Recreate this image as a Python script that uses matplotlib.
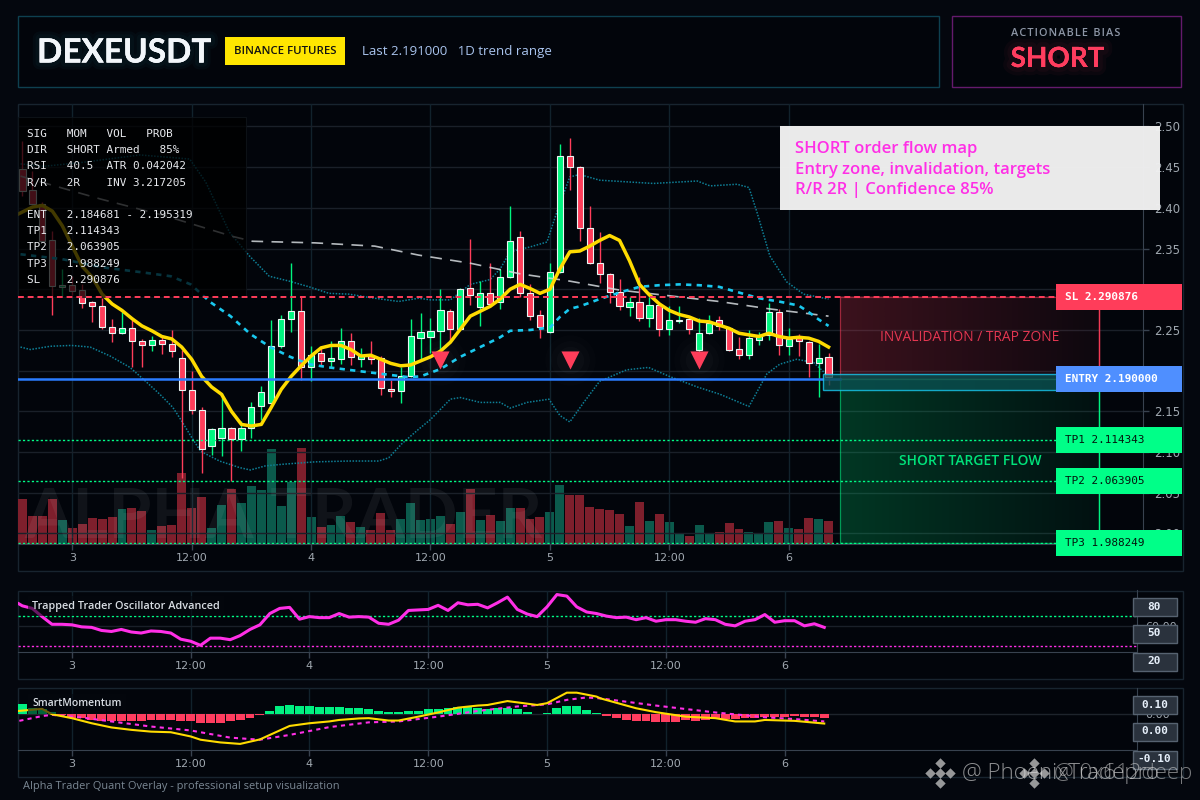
import numpy as np
import matplotlib
matplotlib.use("Agg")
import matplotlib.pyplot as plt
from matplotlib.patches import Rectangle
from matplotlib.transforms import blended_transform_factory, IdentityTransform
import matplotlib.patheffects as pe

# ---------- data ----------
opens = [2.448,2.422,2.405,2.360,2.303,2.305,2.299,2.284,2.279,2.254,2.246,2.253,2.236,2.232,2.238,2.233,2.215,2.176,2.152,2.108,2.117,2.129,2.116,2.129,2.156,2.160,2.230,2.263,2.273,2.204,2.222,2.212,2.214,2.236,2.214,2.218,2.215,2.177,2.175,2.193,2.240,2.241,2.249,2.273,2.251,2.302,2.278,2.296,2.284,2.315,2.364,2.295,2.268,2.247,2.321,2.464,2.450,2.375,2.332,2.319,2.297,2.278,2.284,2.265,2.281,2.251,2.261,2.264,2.226,2.246,2.262,2.253,2.227,2.219,2.238,2.244,2.272,2.230,2.243,2.235,2.209,2.217]
highs = [2.482,2.445,2.407,2.371,2.325,2.316,2.306,2.286,2.289,2.263,2.272,2.263,2.239,2.243,2.243,2.250,2.226,2.199,2.155,2.129,2.173,2.131,2.138,2.161,2.181,2.262,2.268,2.332,2.292,2.230,2.230,2.236,2.252,2.246,2.228,2.237,2.218,2.188,2.204,2.263,2.271,2.265,2.300,2.276,2.302,2.362,2.310,2.332,2.325,2.402,2.372,2.306,2.274,2.332,2.479,2.486,2.451,2.402,2.370,2.320,2.313,2.290,2.315,2.290,2.284,2.280,2.280,2.267,2.265,2.269,2.267,2.254,2.241,2.250,2.248,2.283,2.276,2.252,2.245,2.237,2.233,2.222]
lows = [2.414,2.404,2.359,2.269,2.292,2.293,2.277,2.260,2.251,2.235,2.245,2.204,2.205,2.224,2.220,2.217,2.068,2.147,2.074,2.096,2.095,2.065,2.101,2.117,2.140,2.159,2.228,2.248,2.188,2.187,2.207,2.204,2.208,2.207,2.204,2.208,2.170,2.168,2.160,2.192,2.214,2.222,2.223,2.234,2.250,2.281,2.255,2.278,2.276,2.314,2.291,2.262,2.240,2.246,2.320,2.422,2.359,2.331,2.308,2.283,2.275,2.267,2.261,2.254,2.242,2.244,2.258,2.245,2.220,2.245,2.250,2.224,2.214,2.214,2.232,2.238,2.219,2.219,2.218,2.192,2.168,2.183]
closes = [2.421,2.405,2.359,2.304,2.305,2.298,2.283,2.280,2.254,2.246,2.253,2.236,2.232,2.238,2.233,2.224,2.176,2.152,2.104,2.128,2.129,2.116,2.129,2.155,2.174,2.230,2.264,2.273,2.204,2.219,2.212,2.215,2.236,2.217,2.219,2.214,2.179,2.175,2.193,2.243,2.247,2.249,2.274,2.251,2.300,2.293,2.296,2.282,2.315,2.359,2.295,2.267,2.254,2.321,2.464,2.450,2.375,2.332,2.319,2.297,2.280,2.284,2.265,2.281,2.251,2.262,2.262,2.251,2.246,2.259,2.255,2.226,2.219,2.240,2.244,2.272,2.232,2.239,2.236,2.209,2.216,2.192]
volumes = [136,85,85,136,73,49,61,79,76,82,106,109,100,43,55,58,214,109,142,49,118,166,124,175,163,286,115,187,289,82,52,58,85,67,52,43,94,43,76,124,73,75,84,60,96,165,72,87,69,108,108,75,81,96,177,147,147,111,105,102,90,54,126,69,90,66,33,24,57,33,36,63,45,36,33,66,69,48,45,78,75,69]
fast_line = [2.389,2.395,2.401,2.403,2.396,2.378,2.353,2.328,2.315,2.294,2.282,2.274,2.264,2.255,2.249,2.242,2.239,2.229,2.214,2.193,2.180,2.171,2.150,2.134,2.132,2.134,2.155,2.177,2.193,2.206,2.218,2.228,2.231,2.231,2.226,2.218,2.219,2.214,2.209,2.206,2.207,2.212,2.217,2.224,2.235,2.251,2.267,2.273,2.279,2.288,2.300,2.306,2.301,2.295,2.300,2.325,2.346,2.347,2.353,2.360,2.366,2.360,2.335,2.306,2.293,2.282,2.274,2.269,2.266,2.261,2.260,2.256,2.252,2.246,2.244,2.242,2.246,2.242,2.240,2.241,2.240,2.236,2.229]
basis_idx = [-0.2,4,8,11.9,14.9,16.9,18.9,20.9,22.9,24.9,26.9,28.8,30.8,32.8,34.8,36.8,38.8,40,42,44,46,48,49,51,53,54,55,56,58,60,62,64,66,68,70,72,74,76,78,79,80,81]
basis = [2.343,2.337,2.327,2.321,2.316,2.306,2.284,2.267,2.245,2.229,2.217,2.208,2.204,2.201,2.198,2.195,2.192,2.193,2.202,2.217,2.229,2.241,2.249,2.250,2.253,2.266,2.276,2.279,2.288,2.296,2.303,2.305,2.306,2.305,2.303,2.296,2.289,2.285,2.280,2.272,2.263,2.255]
upper_idx = [-0.2,2.1,6.1,11.8,16.8,18.4,20.8,22.8,24.8,26.8,28.8,30.8,32.8,34.8,37.8,39.8,41,43,45,47,48,49,51,52.7,53.7,55,56,58,60.7,63.4,67.8,69.1,71.8,73,73.8,75.1,76.8,78.5,81]
upper = [2.454,2.451,2.456,2.465,2.460,2.432,2.370,2.341,2.316,2.310,2.303,2.295,2.294,2.290,2.285,2.289,2.287,2.287,2.306,2.312,2.325,2.346,2.352,2.358,2.395,2.438,2.441,2.434,2.432,2.430,2.433,2.427,2.429,2.425,2.395,2.341,2.309,2.294,2.288]
lower_idx = [-0.2,0.8,2.8,4.9,6.8,8.8,10.8,12.1,13.8,15.1,15.9,16.9,17.9,19.8,21.8,22.9,24.4,26.1,29.4,32.8,35.8,36.8,38.1,39.8,41,43,44,46,48,49,50.7,52.9,54,55,56.4,58,60.7,62.9,65,67.8,70.1,73,74.8,76.1,77.8,79.5,81]
lower = [2.229,2.226,2.230,2.231,2.229,2.218,2.204,2.190,2.171,2.155,2.140,2.120,2.101,2.089,2.081,2.078,2.083,2.085,2.088,2.089,2.089,2.093,2.110,2.128,2.140,2.165,2.167,2.161,2.161,2.154,2.161,2.165,2.145,2.137,2.161,2.187,2.201,2.204,2.193,2.180,2.171,2.156,2.196,2.208,2.214,2.210,2.193]
slow_idx = [-0.2,7.8,14.4,21.1,23.1,29.4,35.4,39.8,45,50,55,60,65,70,75,81]
slow_line = [2.439,2.411,2.390,2.365,2.359,2.357,2.353,2.342,2.332,2.319,2.310,2.299,2.292,2.285,2.276,2.267]
signal_idx = [42,55,68]
signal_price = [2.213,2.213,2.213]
osc = [103,99,94,78,63,63,62,58,57,51,49,53,48,46,50,49,46,34,30,22,36,36,33,41,53,62,84,94,96,73,78,76,76,84,77,78,77,65,63,71,90,91,92,100,90,105,101,102,95,105,116,92,83,78,97,121,118,97,87,84,79,76,77,72,76,69,72,72,69,67,74,72,63,60,69,72,82,67,70,70,60,64,57]
hist = [.034,.020,.018,.009,-.003,-.011,-.014,-.018,-.021,-.022,-.022,-.022,-.022,-.020,-.018,-.018,-.021,-.022,-.029,-.029,-.029,-.024,-.020,-.013,-.002,.012,.026,.031,.029,.027,.023,.023,.023,.020,.020,.016,.010,.007,.007,.010,.012,.016,.019,.022,.024,.024,.022,.019,.020,.020,.018,.009,.001,.004,.020,.028,.026,.014,.004,-.006,-.014,-.019,-.023,-.023,-.026,-.027,-.026,-.019,-.022,-.020,-.017,-.016,-.016,-.014,-.013,-.009,-.008,-.008,-.006,-.008,-.009,-.012]
mom_idx = [-0.4,2,3,5,7,9,11,13,15,17,18,20,22,24,25,27,29,31,32,34,35,37,38,40,42,44,46,47,49,52,53,55,56,58,58.4,62,64,67,70,72,74,75,78,81]
mom = [.011,.018,0,-.013,-.030,-.044,-.052,-.058,-.060,-.074,-.085,-.094,-.099,-.084,-.069,-.039,-.030,-.024,-.019,-.014,-.013,-.021,-.021,-.008,.006,.022,.029,.031,.044,.031,.037,.072,.072,.059,.053,.020,.007,-.008,-.013,-.024,-.024,-.019,-.022,-.031]
sig_idx = [-0.3,2,3,6,9,13,17,21,24,27,31,35,38,42,46,50,53,55,57,58.4,64,70,75,78,81]
sig = [-.022,-.006,-.002,-.011,-.024,-.041,-.054,-.078,-.085,-.069,-.043,-.027,-.024,-.008,.011,.026,.033,.048,.056,.053,.029,.006,-.010,-.016,-.024]

time_pos = [5,17,29,41,53,65,77]
time_labels = ["3","12:00","4","12:00","5","12:00","6"]
price_ticks = [2.00,2.05,2.10,2.15,2.20,2.25,2.30,2.35,2.40,2.45,2.50]
SL, ENTRY, TP1, TP2, TP3 = 2.290876, 2.190000, 2.114343, 2.063905, 1.988249
info_lines = ["SIG   MOM   VOL   PROB","DIR   SHORT Armed   85%","RSI   40.5  ATR 0.042042","R/R   2R    INV 3.217205","",
              "ENT   2.184681 - 2.195319","TP1   2.114343","TP2   2.063905","TP3   1.988249","SL    2.290876"]
level_labels = [("SL 2.290876",SL,"#ff3d5a","#ffffff"),("ENTRY 2.190000",ENTRY,"#4f8fff","#ffffff"),
                ("TP1 2.114343",TP1,"#00ff88","#04140c"),("TP2 2.063905",TP2,"#00ff88","#04140c"),("TP3 1.988249",TP3,"#00ff88","#04140c")]

# ---------- style ----------
W, H = 1200, 800
BG = "#04070e"; PANEL = "#02050b"
RED = "#ff3d5a"; GRN = "#00f57f"; VRED = "#7e1f2c"; VGRN = "#0b5a4c"
MONO = "DejaVu Sans Mono"; SANS = "Open Sans"; HEAD = "Lato"
GRIDH = "#1a2029"; GRIDV = "#11222c"; AX = "#38424f"

fig = plt.figure(figsize=(12, 8), dpi=100, facecolor=BG)

def axpx(l, t, r, b, z):
    a = fig.add_axes([l/W, 1-b/H, (r-l)/W, (b-t)/H], zorder=z)
    a.patch.set_alpha(0)
    return a

bgax = axpx(0, 0, W, H, 0)
bgax.set_xlim(0, W); bgax.set_ylim(H, 0); bgax.axis("off")
def frame(a, x0, y0, x1, y1, ec, fc="none", lw=1.0, z=1, alpha=None):
    a.add_patch(Rectangle((x0,y0), x1-x0, y1-y0, ec=ec, fc=fc, lw=lw, zorder=z, alpha=alpha, clip_on=False))
frame(bgax, 17.5, 15.5, 938.5, 86.5, "#0e4050", PANEL)
frame(bgax, 951.5, 15.5, 1180.5, 86.5, "#641a6c", PANEL)
frame(bgax, 17.5, 103.5, 1182.5, 570.5, "#18242f", PANEL)
frame(bgax, 17.5, 590.5, 1182.5, 678.5, "#18242f", PANEL)
frame(bgax, 17.5, 687.5, 1182.5, 776.5, "#18242f", PANEL)

YTOP, YBOT = 2.5276, 1.98708
XL, XR = -0.452, 112.6

vax = axpx(18, 104, 1143, 544, 1)
vax.axis("off")
vcol = [VGRN if c >= o else VRED for o, c in zip(opens, closes)]
vax.bar(range(len(volumes)), volumes, width=0.9, color=vcol)
vax.set_xlim(XL, XR); vax.set_ylim(0, 1320)

ax = axpx(18, 104, 1143, 544, 2)
idx = np.arange(len(opens))
ax.set_axisbelow(True)
ax.grid(True, axis="y", color=GRIDH, lw=1)
ax.grid(True, axis="x", color=GRIDV, lw=1)
ax.set_yticks(price_ticks); ax.set_yticklabels([f"{p:.2f}" for p in price_ticks])
ax.set_xticks(time_pos); ax.set_xticklabels(time_labels)
ax.yaxis.tick_right()
ax.tick_params(axis="y", labelsize=8.5, length=4, pad=4, width=1, color=AX)
ax.tick_params(axis="x", labelsize=8, length=4, pad=2.5, width=1, color=AX)
for lab in ax.get_xticklabels()+ax.get_yticklabels():
    lab.set_color("#a0a8b0")
for s in ["top","left"]:
    ax.spines[s].set_visible(False)
for s in ["bottom","right"]:
    ax.spines[s].set_color(AX)

ax.text(26.2, 2.019, "ALPHA TRADER", fontsize=50, family=HEAD, fontweight="bold", color="white", alpha=0.06,
        ha="center", va="center", zorder=1.2)

ax.plot(upper_idx, upper, color="#0e7f96", lw=1.1, ls=(0,(1,1)), zorder=2)
ax.plot(lower_idx, lower, color="#0e7f96", lw=1.1, ls=(0,(1,1)), zorder=2)

ccol = [GRN if c >= o else RED for o, c in zip(opens, closes)]
ax.vlines(idx, lows, highs, colors=ccol, lw=1, zorder=3)
btm = [min(o,c) for o,c in zip(opens,closes)]
hgt = [max(abs(o-c),0.001) for o,c in zip(opens,closes)]
ax.bar(idx, hgt, bottom=btm, width=0.62, color=ccol, edgecolor="#eaf6f4", linewidth=0.8, zorder=3.1)

ax.plot(slow_idx, slow_line, color="#d5dade", lw=1.2, ls=(0,(7,5)), alpha=0.85, zorder=3.2)
ax.plot(basis_idx, basis, color="#19c8ee", lw=1.9, ls=(0,(2,2)), zorder=3.3)
ax.plot(np.arange(-1, len(fast_line)-1), fast_line, color="#ffdb00", lw=2.5, zorder=3.5, solid_joinstyle="round")

ax.axhline(SL, color=RED, lw=1.4, ls=(0,(3,2)), zorder=3.6)
for tp in (TP1, TP2, TP3):
    ax.axhline(tp, color="#00ff88", lw=1, ls=(0,(1.6,1.6)), zorder=3.6)
ax.plot([XL, 82.2], [ENTRY, ENTRY], color="#2a7cff", lw=1.8, zorder=3.7)

for r, al in [(26,.012),(20,.014),(14,.018)]:
    ax.scatter(signal_idx, signal_price, s=(r*1.4)**2, color="white", alpha=al, lw=0, zorder=3.75)
ax.scatter(signal_idx, signal_price, marker="v", s=170, color=RED, lw=0, zorder=3.8)

def zone(x0, x1, p0, p1, rgb, a0, a1, ec, z=3.4):
    g = np.zeros((2, 64, 4))
    g[..., :3] = rgb
    g[..., 3] = np.linspace(a0, a1, 64)
    ax.imshow(g, extent=[x0, x1, p0, p1], aspect="auto", origin="lower", zorder=z, interpolation="bilinear")
    ax.plot([x0,x1,x1,x0,x0],[p0,p0,p1,p1,p0], color=ec, lw=0.9, alpha=0.5, zorder=z+.01)
ZX0, ZX1 = 82.2, 108.2
zone(ZX0, ZX1, ENTRY, SL, (1,.24,.35), .23, .05, RED)
zone(ZX0, ZX1, TP3, ENTRY, (0,1,.53), .20, .05, "#00ff88")
ax.add_patch(Rectangle((80.45, 2.176), 24.85, 0.0195, fc="#0a4f50", ec="#19c8ee", lw=1, alpha=0.8, zorder=3.9))
ax.text(95.2, 2.2402, "INVALIDATION / TRAP ZONE", color=RED, fontsize=9.9, family=SANS, ha="center", va="center", alpha=0.88, zorder=5)
ax.text(95.2, 2.0893, "SHORT TARGET FLOW", color="#00e27a", fontsize=10, family=SANS, fontweight="semibold", ha="center", va="center", zorder=5)
ax.plot([ZX1,ZX1],[ENTRY,SL], color=RED, lw=1, alpha=.9, zorder=3.95)
ax.plot([ZX1,ZX1],[TP3,ENTRY], color="#00ff88", lw=1, alpha=.9, zorder=3.95)

ax.add_patch(Rectangle((XL, SL), 22.9, 0.2205, fc="#000000", ec="#10161c", lw=.8, alpha=0.74, zorder=3.58, clip_on=True))
yy = [134,150,166,183,199,215,231,247,264,280]
for s, y in zip(info_lines, yy):
    fig.text(27/W, 1-y/H, s, family=MONO, fontsize=7.9, color="#e8eaee", va="center", zorder=6)

tr = blended_transform_factory(IdentityTransform(), ax.transData)
for lab, p, fc, tc in level_labels:
    ax.add_patch(Rectangle((1056, p-0.016), 126, 0.032, transform=tr, fc=fc, ec="none", clip_on=False, zorder=20))
    ax.text(1065, p, lab, transform=tr, family=MONO, fontsize=7.9, color=tc, va="center", ha="left",
            fontweight="bold" if lab[0] in "SE" else "normal", zorder=21, clip_on=False)

ax.set_xlim(XL, XR); ax.set_ylim(YBOT, YTOP)

# ---------- oscillator ----------
a1 = axpx(17.5, 590.5, 1136.5, 652, 2)
LX0, LX1 = -0.485, 112.54
a1.set_xlim(LX0, LX1); a1.set_ylim(9, 128.9)
a1.set_axisbelow(True)
a1.grid(True, axis="x", color=GRIDV, lw=1)
a1.set_yticks([60]); a1.set_yticklabels(["60.00"])
a1.grid(True, axis="y", color=GRIDH, lw=1)
a1.plot(np.r_[-0.35, np.arange(len(osc)-1)], osc, color="#ff2fe6", lw=2.2, zorder=3)
a1.axhline(80, color="#00ff88", lw=1, ls=(0,(1.6,1.6)), zorder=2)
a1.axhline(20, color="#ff2fe6", lw=1, ls=(0,(1.6,1.6)), zorder=2)

a2 = axpx(17.5, 687.5, 1136.5, 750, 2)
a2.set_xlim(LX0, LX1)
a2.set_ylim(-0.1193, 0.0893)
a2.set_axisbelow(True)
a2.grid(True, axis="x", color=GRIDV, lw=1)
a2.set_yticks([0]); a2.set_yticklabels(["0.00"])
a2.grid(True, axis="y", color="#1e242c", lw=1)
hcol = ["#00f081" if h >= 0 else "#ff3d5f" for h in hist]
a2.bar(range(len(hist)), hist, width=0.9, color=hcol, zorder=2)
a2.plot(sig_idx, sig, color="#ff2fe6", lw=1.5, ls=(0,(2,2)), zorder=3)
a2.plot(mom_idx, mom, color="#ffdb00", lw=1.5, zorder=3.2)

for a in (a1, a2):
    a.set_xticks(time_pos); a.set_xticklabels(time_labels)
    a.yaxis.tick_right()
    a.tick_params(axis="x", length=4, width=1, color=AX, labelsize=8, pad=2.5)
    a.tick_params(axis="y", length=0, labelsize=8, pad=6)
    for lab in a.get_xticklabels()+a.get_yticklabels():
        lab.set_color("#a0a8b0")
    for s in ["top","left"]:
        a.spines[s].set_visible(False)
    for s in ["bottom","right"]:
        a.spines[s].set_color(AX)

# ---------- overlay chrome ----------
top = axpx(0, 0, W, H, 10)
top.set_xlim(0, W); top.set_ylim(H, 0); top.axis("off")

def glow(color, widths=(10,6,3), alpha=.07):
    return [pe.withStroke(linewidth=w, foreground=color, alpha=alpha) for w in widths]

t = top.text(37, 53, "DEXEUSDT", fontsize=24, family=HEAD, fontweight="bold", color="#f2f6fa", va="center")
t.set_path_effects(glow("#35b8d8", (10,6), .035) + [pe.Normal()])
top.add_patch(Rectangle((225,37), 120, 28, fc="#ffe600", ec="none"))
top.text(285, 51, "BINANCE FUTURES", fontsize=8.2, family=SANS, fontweight="semibold", color="#111111", ha="center", va="center")
top.text(362, 52, "Last 2.191000   1D trend range", fontsize=9.5, family=SANS, fontweight="medium", color="#a9c4ee", va="center")
spaced = "\u2002".join("\u200a".join(w) for w in ["ACTIONABLE", "BIAS"])
top.text(1065.5, 34, spaced, fontsize=7.8, family=SANS, fontweight="semibold", color="#8d96a6", ha="center", va="center")
t = top.text(1057.5, 59, "SHORT", fontsize=20, family=HEAD, fontweight="bold", color="#ff3d5f", ha="center", va="center")
t.set_path_effects(glow("#ff3d5f", (12,7), .04) + [pe.Normal()])

top.add_patch(Rectangle((780,126), 380, 84, fc="#f0f0f0", ec="none", alpha=0.98))
for s, y in [("SHORT order flow map",149),("Entry zone, invalidation, targets",170),("R/R 2R | Confidence 85%",190)]:
    top.text(795, y, s, fontsize=12, family=SANS, fontweight="semibold", color="#ff2fe6", va="center")

for s, y, fs in [("Trapped Trader Oscillator Advanced",606,7.8),("SmartMomentum",704,7.5)]:
    top.text(32, y, s, fontsize=fs, family=SANS, fontweight="semibold", color="#d8dde3", va="center",
             bbox=dict(fc="#05080e", ec="none", alpha=.6, pad=3))
for s, y0, y1 in [("80",597.5,615.5),("50",624.5,642.5),("20",652.5,670.5),("0.10",695.5,713.5),("0.00",722.5,740.5),("-0.10",750.5,768.5)]:
    top.add_patch(Rectangle((1132.5,y0), 44, y1-y0, fc="#2a323d", ec="#566270", lw=1))
    top.text(1154.5, (y0+y1)/2, s, fontsize=8, family=MONO, fontweight="bold", color="#e6effa", ha="center", va="center")
top.text(23, 787, "Alpha Trader Quant Overlay - professional setup visualization", fontsize=7.95, family=SANS, color="#7b8894", va="center")

for cx in (940, 1034):
    top.scatter([cx, cx-10, cx+10, cx, cx], [763, 773, 773, 783, 773], marker="D", s=28, color="#bdbdbd", alpha=.8, lw=0)
top.text(962, 773, "@ PhoenixTradepro", fontsize=16, family=SANS, fontweight="light", color="#d8d8d8", alpha=.65, va="center")
top.text(1054, 773, "@ 0x612deep", fontsize=16, family=SANS, fontweight="light", color="#d8d8d8", alpha=.55, va="center")

fig.savefig("out.png", dpi=100, facecolor=BG)
